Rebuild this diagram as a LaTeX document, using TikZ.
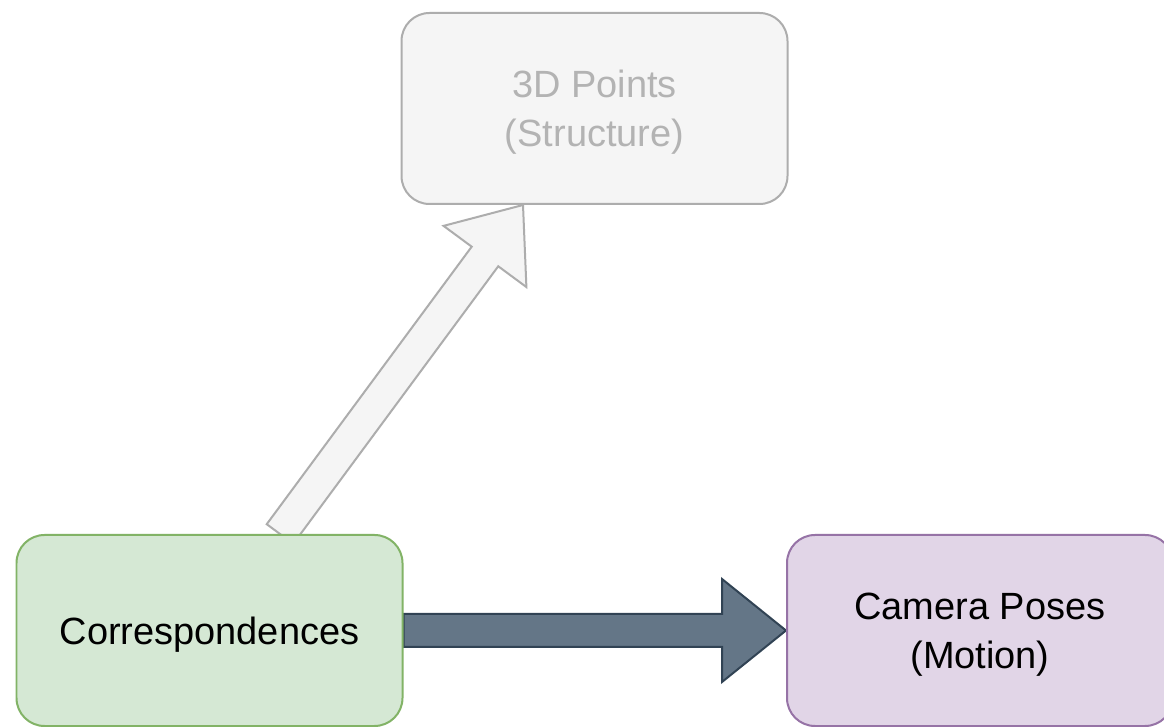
\documentclass[tikz,border=0pt]{standalone}
\usepackage{fontspec}
\setmainfont{Liberation Sans}
\usepackage{tikz}
\usetikzlibrary{positioning}
\usetikzlibrary{calc}
\usetikzlibrary{backgrounds}
\usepackage{xcolor}

\definecolor{corrfill}{HTML}{D5E8D4}
\definecolor{corrline}{HTML}{82B366}
\definecolor{camfill}{HTML}{E1D5E7}
\definecolor{camline}{HTML}{9673A6}
\definecolor{ptsfill}{HTML}{F5F5F5}
\definecolor{ptsline}{HTML}{ADADAD}
\definecolor{ptstext}{HTML}{B3B3B3}
\definecolor{motionfill}{HTML}{647687}
\definecolor{motionline}{HTML}{314354}

\tikzset{
  box/.style={rectangle, rounded corners=0.56cm, minimum width=7.72cm,
    minimum height=3.82cm, line width=0.04cm, align=center, text depth=0pt,
    font=\fontsize{21.6}{27.8}\selectfont},
  corrbox/.style={box, draw=corrline, fill=corrfill, text=black},
  cambox/.style={box, draw=camline, fill=camfill, text=black},
  ptsbox/.style={box, draw=ptsline, fill=ptsfill, text=ptstext},
  darkarrow/.style={draw=motionline, fill=motionfill, line width=0.04cm},
  lightarrow/.style={draw=ptsline, fill=ptsfill, line width=0.04cm}
}

% fat arrow: #1 style, #2 from, #3 to
\newcommand{\fatarrow}[3]{%
  \coordinate (fa-a) at (#2);
  \coordinate (fa-b) at (#3);
  \coordinate (fa-h) at ($(fa-b)!1.28cm!(fa-a)$);
  \draw[#1] ($(fa-a)!0.33cm!90:(fa-b)$) -- ($(fa-h)!0.33cm!90:(fa-b)$)
    -- ($(fa-h)!1.03cm!90:(fa-b)$) -- (fa-b)
    -- ($(fa-h)!1.03cm!-90:(fa-b)$) -- ($(fa-h)!0.33cm!-90:(fa-b)$)
    -- ($(fa-a)!0.33cm!-90:(fa-b)$) -- cycle;
}

\begin{document}
\begin{tikzpicture}
\clip (0,0) rectangle (23.28,14.54);

\node[corrbox] (corr) at (4.19,1.93) {Correspondences};
\node[cambox] (cam) at (19.60,1.93) {Camera Poses\\(Motion)};
\node[ptsbox] (pts) at (11.89,12.37) {3D Points\\(Structure)};

\coordinate (corr-out) at ($(corr.north)+(1.41,0)$);
\coordinate (pts-in) at ($(pts.south)+(-1.43,0)$);

% arrows behind the boxes
\begin{scope}[on background layer]
\fill[white] (0,0) rectangle (23.28,14.54);
\fatarrow{lightarrow}{corr-out}{pts-in}
\fatarrow{darkarrow}{corr.east}{cam.west}
\end{scope}

\end{tikzpicture}
\end{document}
